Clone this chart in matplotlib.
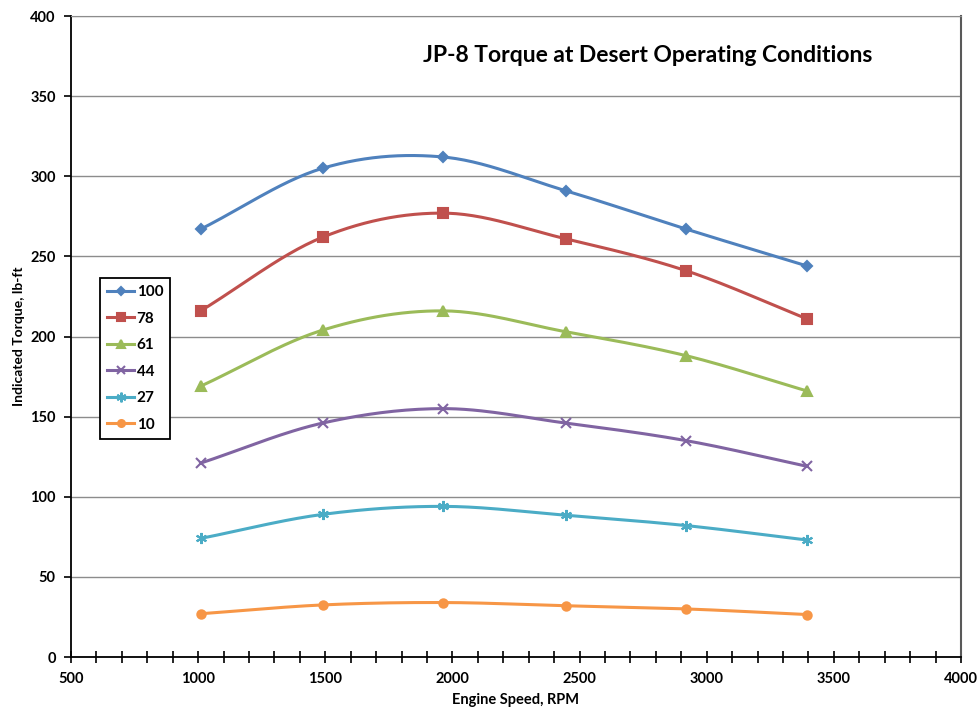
import numpy as np
import matplotlib
matplotlib.use("Agg")
import matplotlib.pyplot as plt
from matplotlib.ticker import MultipleLocator

plt.rcParams["font.family"] = ["Lato", "DejaVu Sans"]

# engine speed (rpm) at each measured point
rpm = [1010, 1490, 1965, 2445, 2920, 3395]

# indicated torque (lb-ft) per load level
labels = ["100", "78", "61", "44", "27", "10"]
torque_100 = [267, 305, 312, 291, 267, 244]
torque_78 = [216, 262, 277, 261, 241, 211]
torque_61 = [169, 204, 216, 203, 188, 166]
torque_44 = [121, 146, 155, 146, 135, 119]
torque_27 = [74, 89, 94, 88.5, 82, 73]
torque_10 = [27, 32.5, 34, 32, 30, 26.5]

series = [torque_100, torque_78, torque_61, torque_44, torque_27, torque_10]
colors = ["#4F81BD", "#C0504D", "#9BBB59", "#8064A2", "#4BACC6", "#F79646"]
markers = ["D", "s", "^", "x", (6, 2, 0), "o"]
msizes = [5, 7, 7, 7, 8, 6]


def smooth(x, y, n=30):
    # Catmull-Rom curve through the points, like a spreadsheet "smoothed line"
    x = np.asarray(x, float)
    y = np.asarray(y, float)
    px = np.concatenate([[2 * x[0] - x[1]], x, [2 * x[-1] - x[-2]]])
    py = np.concatenate([[2 * y[0] - y[1]], y, [2 * y[-1] - y[-2]]])
    t = np.linspace(0, 1, n)
    xs, ys = [], []
    for i in range(1, len(px) - 2):
        for p, out in ((px, xs), (py, ys)):
            p0, p1, p2, p3 = p[i - 1], p[i], p[i + 1], p[i + 2]
            out.extend(0.5 * ((2 * p1) + (-p0 + p2) * t
                              + (2 * p0 - 5 * p1 + 4 * p2 - p3) * t ** 2
                              + (-p0 + 3 * p1 - 3 * p2 + p3) * t ** 3))
    return np.array(xs), np.array(ys)


fig = plt.figure(figsize=(9.8, 7.15), dpi=100)
ax = fig.add_axes([0.0724, 0.0811, 0.9082, 0.8965])

for vals, lab, c, m, ms in zip(series, labels, colors, markers, msizes):
    sx, sy = smooth(rpm, vals)
    ax.plot(sx, sy, color=c, linewidth=2.2, zorder=3)
    ax.plot(rpm, vals, linestyle="none", marker=m, color=c, markersize=ms,
            markeredgewidth=1.5, zorder=4)
    ax.plot([], [], color=c, linewidth=2.2, marker=m, markersize=ms - 1,
            markeredgewidth=1.5, label=lab)

ax.set_xlim(500, 4000)
ax.set_ylim(0, 400)
ax.xaxis.set_major_locator(MultipleLocator(500))
ax.xaxis.set_minor_locator(MultipleLocator(100))
ax.yaxis.set_major_locator(MultipleLocator(50))
ax.grid(True, axis="y", color="#8C8C8C", linewidth=1.0)
ax.set_axisbelow(True)

ax.tick_params(axis="x", which="major", direction="inout", length=9, width=1.2,
               labelsize=10.5, pad=6)
ax.tick_params(axis="x", which="minor", direction="inout", length=9, width=1.2)
ax.tick_params(axis="y", direction="out", length=5, width=1.2, labelsize=10.5, pad=6)
for lbl in ax.get_xticklabels() + ax.get_yticklabels():
    lbl.set_fontweight("bold")

ax.spines["left"].set_color("black")
ax.spines["bottom"].set_color("black")
ax.spines["left"].set_linewidth(1.3)
ax.spines["bottom"].set_linewidth(1.3)
ax.spines["top"].set_color("#8C8C8C")
ax.spines["right"].set_color("#595959")
ax.spines["right"].set_linewidth(1.5)

ax.set_xlabel("Engine Speed, RPM", fontsize=10.5, fontweight="bold", labelpad=5)
ax.set_ylabel("Indicated Torque, lb-ft", fontsize=10, fontweight="bold", labelpad=4)
ax.text(0.648, 0.939, "JP-8 Torque at Desert Operating Conditions",
        transform=ax.transAxes, ha="center", va="center",
        fontsize=16.5, fontweight="bold")

leg = ax.legend(loc="upper left", bbox_to_anchor=(0.0326, 0.591), fancybox=False,
                edgecolor="black", framealpha=1, fontsize=11,
                handlelength=1.8, handletextpad=0.15, labelspacing=0.82,
                borderpad=0.45, borderaxespad=0)
leg.get_frame().set_linewidth(1.3)
for t in leg.get_texts():
    t.set_fontweight("bold")

fig.savefig("out.png", dpi=100)
